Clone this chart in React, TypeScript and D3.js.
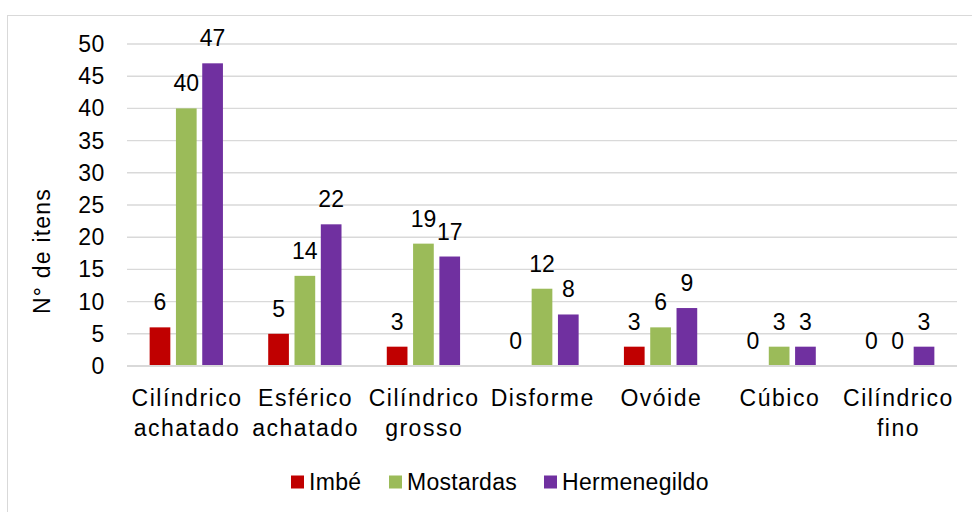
import { useEffect, useRef } from 'react';
import * as d3 from 'd3';

// chart data
const categories = [
  ['Cilíndrico', 'achatado'],
  ['Esférico', 'achatado'],
  ['Cilíndrico', 'grosso'],
  ['Disforme'],
  ['Ovóide'],
  ['Cúbico'],
  ['Cilíndrico', 'fino'],
];
const seriesNames = ['Imbé', 'Mostardas', 'Hermenegildo'];
const seriesColors = ['#C00000', '#9BBB59', '#7030A0'];
const imbe = [6, 5, 3, 0, 3, 0, 0];
const mostardas = [40, 14, 19, 12, 6, 3, 0];
const hermenegildo = [47, 22, 17, 8, 9, 3, 3];
const yTicks = [0, 5, 10, 15, 20, 25, 30, 35, 40, 45, 50];

const W = 972;
const H = 512;
const FONT = 'Arial, "Liberation Sans", sans-serif';

const App = () => {
  const svgRef = useRef<SVGSVGElement>(null);

  useEffect(() => {
    document.body.style.margin = '0';
    const svg = d3.select(svgRef.current);
    svg.selectAll('*').remove();

    const left = 127, right = 957, top = 44, bottom = 366;
    const values = [imbe, mostardas, hermenegildo];
    const keys = categories.map((c) => c.join(' '));

    // chart border
    svg.append('rect')
      .attr('x', 7.5).attr('y', 15.5)
      .attr('width', W).attr('height', H)
      .attr('fill', 'white').attr('stroke', '#D9D9D9').attr('stroke-width', 1);

    const y = d3.scaleLinear().domain([0, 50]).range([bottom, top]);
    const x0 = d3.scaleBand().domain(keys).range([left, right]).padding(0);
    const groupW = 73.3;
    const x1 = d3.scaleBand().domain(seriesNames).range([0, groupW]).paddingInner(0.213).paddingOuter(0);
    const off = (x0.bandwidth() - groupW) / 2;

    // gridlines
    svg.append('g').selectAll('line')
      .data(yTicks.filter((t) => t > 0))
      .join('line')
      .attr('x1', left).attr('x2', right)
      .attr('y1', (d) => y(d)).attr('y2', (d) => y(d))
      .attr('stroke', '#D9D9D9').attr('stroke-width', 1.4);

    // tick labels
    svg.append('g').selectAll('text')
      .data(yTicks)
      .join('text')
      .attr('x', 105).attr('y', (d) => y(d) + 8)
      .attr('text-anchor', 'end')
      .attr('font-family', FONT).attr('font-size', 23).attr('fill', '#000')
      .attr('letter-spacing', 0.6)
      .text((d) => d);

    // bars
    seriesNames.forEach((s, si) => {
      const g = svg.append('g');
      g.selectAll('rect')
        .data(values[si])
        .join('rect')
        .attr('x', (_, i) => x0(keys[i])! + off + x1(s)!)
        .attr('y', (d) => y(d))
        .attr('width', x1.bandwidth())
        .attr('height', (d) => y(0) - y(d))
        .attr('fill', seriesColors[si]);
      g.selectAll('text')
        .data(values[si])
        .join('text')
        .attr('x', (_, i) => x0(keys[i])! + off + x1(s)! + x1.bandwidth() / 2)
        .attr('y', (d) => y(d) - 17)
        .attr('text-anchor', 'middle')
        .attr('font-family', FONT).attr('font-size', 23).attr('fill', '#000')
        .text((d) => d);
    });

    // zero axis line
    svg.append('line')
      .attr('x1', left).attr('x2', right)
      .attr('y1', y(0)).attr('y2', y(0))
      .attr('stroke', '#D9D9D9').attr('stroke-width', 2);

    // category labels
    const cat = svg.append('g').selectAll('text')
      .data(categories)
      .join('text')
      .attr('x', (_, i) => x0(keys[i])! + x0.bandwidth() / 2 + 0.75)
      .attr('y', 406)
      .attr('text-anchor', 'middle')
      .attr('letter-spacing', 1.5)
      .attr('font-family', FONT).attr('font-size', 23).attr('fill', '#000');
    cat.selectAll('tspan')
      .data((d) => d)
      .join('tspan')
      .attr('x', function () {
        return (this as any).parentNode.getAttribute('x');
      })
      .attr('dy', (_, i) => (i === 0 ? 0 : 30))
      .text((d) => d);

    // y-axis title
    svg.append('text')
      .attr('transform', 'translate(50,251) rotate(-90)')
      .attr('text-anchor', 'middle')
      .attr('letter-spacing', 1.2)
      .attr('font-family', FONT).attr('font-size', 23).attr('fill', '#000')
      .text('N° de itens');

    // legend
    const legendX = [291, 389, 544];
    const lg = svg.append('g').selectAll('g')
      .data(seriesNames)
      .join('g')
      .attr('transform', (_, i) => `translate(${legendX[i]},482)`);
    lg.append('rect')
      .attr('x', 0).attr('y', -6.5).attr('width', 13).attr('height', 13)
      .attr('fill', (_, i) => seriesColors[i]);
    lg.append('text')
      .attr('x', 18).attr('y', 8)
      .attr('letter-spacing', 0.3)
      .attr('font-family', FONT).attr('font-size', 23).attr('fill', '#000')
      .text((d) => d);
  }, []);

  return <svg ref={svgRef} width={W} height={H} style={{ display: 'block' }} />;
};

export default App;
